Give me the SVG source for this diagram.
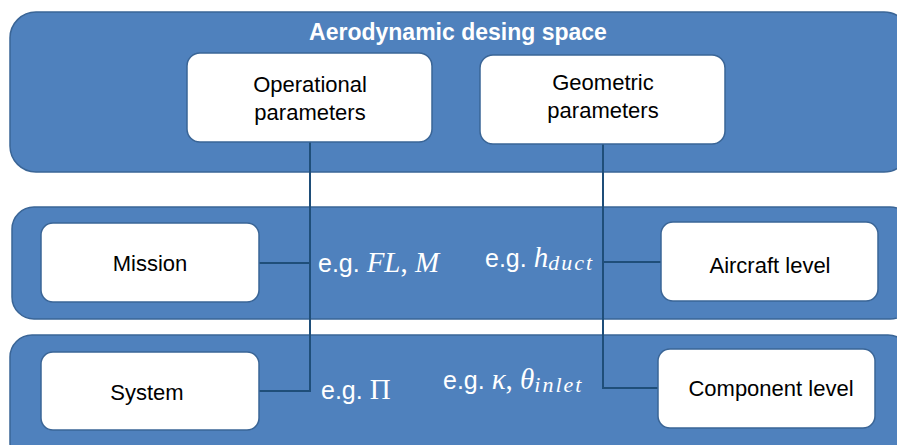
<svg xmlns="http://www.w3.org/2000/svg" width="897" height="445" viewBox="0 0 897 445">
<style>
.band{fill:#4F81BD;stroke:#3A6596;stroke-width:1.5}
.box{fill:#FFFFFF;stroke:#3A6596;stroke-width:1.5}
.lbl{font-family:"Liberation Sans",Arial,sans-serif;font-size:22px;fill:#000;text-anchor:middle}
.title{font-family:"Liberation Sans",Arial,sans-serif;font-size:23px;font-weight:bold;fill:#fff;text-anchor:middle}
.eg{font-family:"Liberation Sans",Arial,sans-serif;font-size:25px;fill:#fff}
.m{font-family:"Liberation Serif","Times New Roman",serif;font-style:italic;font-size:29px}
.up{font-family:"Liberation Serif","Times New Roman",serif;font-style:normal;font-size:29px}
.sub{font-size:22px;letter-spacing:2px}
.conn{fill:none;stroke:#1F4E79;stroke-width:2}
</style>
<g id="band-design-space">
<rect class="band" x="10" y="12" width="900" height="160" rx="26"/>
<text class="title" x="458" y="40">Aerodynamic desing space</text>
</g>
<g id="band-aircraft">
<rect class="band" x="12" y="207" width="900" height="112" rx="22"/>
</g>
<g id="band-component">
<rect class="band" x="10" y="335" width="900" height="130" rx="22"/>
</g>
<g id="connectors">
<path class="conn" d="M310,142 V391 H259"/>
<path class="conn" d="M259,263 H310"/>
<path class="conn" d="M603,144 V388 H658"/>
<path class="conn" d="M603,262 H661"/>
</g>
<g id="node-operational">
<rect class="box" x="187" y="53" width="245" height="89" rx="13"/>
<text class="lbl" x="310" y="92">Operational</text>
<text class="lbl" x="310" y="120">parameters</text>
</g>
<g id="node-geometric">
<rect class="box" x="480" y="55" width="245" height="89" rx="13"/>
<text class="lbl" x="603" y="90">Geometric</text>
<text class="lbl" x="603" y="118">parameters</text>
</g>
<g id="node-mission">
<rect class="box" x="41" y="223" width="218" height="79" rx="12"/>
<text class="lbl" x="150" y="271">Mission</text>
</g>
<g id="node-aircraft">
<rect class="box" x="661" y="222" width="217" height="79" rx="12"/>
<text class="lbl" x="770" y="273">Aircraft level</text>
</g>
<g id="node-system">
<rect class="box" x="41" y="352" width="218" height="78" rx="12"/>
<text class="lbl" x="147" y="400">System</text>
</g>
<g id="node-component">
<rect class="box" x="658" y="349" width="217" height="79" rx="12"/>
<text class="lbl" x="771" y="396">Component level</text>
</g>
<g id="labels">
<text class="eg" x="318" y="272">e.g. <tspan class="m">FL</tspan><tspan class="up">, </tspan><tspan class="m">M</tspan></text>
<text class="eg" x="485" y="267">e.g. <tspan class="m">h</tspan><tspan class="m sub" dy="3">duct</tspan></text>
<text class="eg" x="321" y="399">e.g. <tspan class="up">Π</tspan></text>
<text class="eg" x="443" y="389">e.g. <tspan class="m">κ</tspan><tspan class="up">, </tspan><tspan class="m">θ</tspan><tspan class="m sub" dy="3">inlet</tspan></text>
</g>
</svg>
